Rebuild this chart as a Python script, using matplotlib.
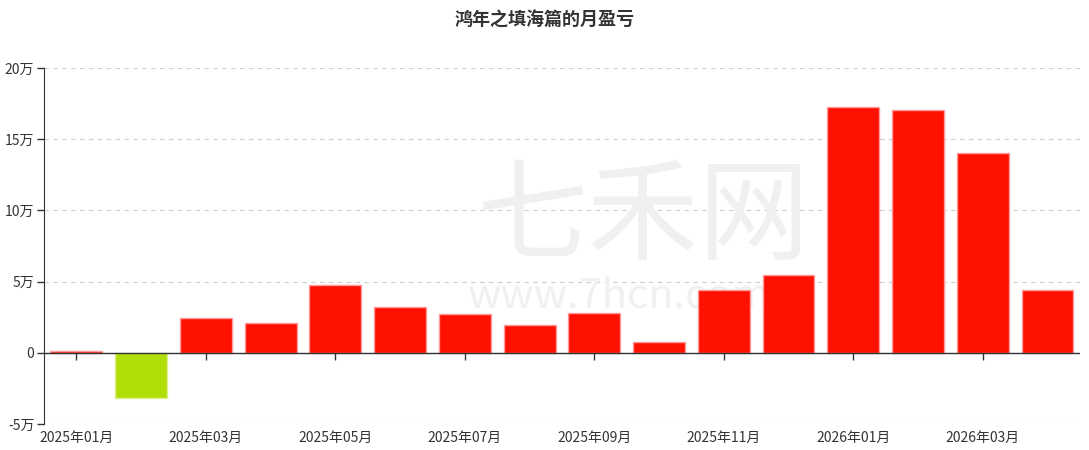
import numpy as np
import matplotlib
matplotlib.use('Agg')
import matplotlib.pyplot as plt
from matplotlib.ticker import FuncFormatter

plt.rcParams['font.family'] = ['Noto Sans CJK SC', 'DejaVu Sans']

# monthly profit / loss (yuan)
months = ['2025年01月', '2025年02月', '2025年03月', '2025年04月', '2025年05月', '2025年06月',
          '2025年07月', '2025年08月', '2025年09月', '2025年10月', '2025年11月', '2025年12月',
          '2026年01月', '2026年02月', '2026年03月', '2026年04月']
pnl = [1500, -31600, 24600, 21000, 47700, 32300,
       27400, 19600, 28000, 7700, 44200, 54700,
       172600, 170500, 140400, 44200]

fig = plt.figure(figsize=(10.89, 4.5), dpi=100)
ax = fig.add_axes([0.0404, 0.0578, 0.9513, 0.7911])

# watermark (behind the bars)
ax.text(0.578, 0.575, '七禾网', transform=ax.transAxes, fontsize=80, color='#f0f0f0',
        ha='center', va='center', zorder=1)
ax.text(0.555, 0.36, 'www.7hcn.com', transform=ax.transAxes, fontsize=30, color='#f0f0f0',
        ha='center', va='center', zorder=1)

x = np.arange(len(months))
colors = ['#ff1100' if v >= 0 else '#b0de09' for v in pnl]
edges = ['#ff9a9a' if v >= 0 else '#dff08a' for v in pnl]
ax.bar(x, pnl, width=0.8, color=colors, edgecolor=edges, linewidth=1, zorder=3)

ax.set_xlim(-0.5, len(months) - 0.5)
ax.set_ylim(-50000, 200000)
ax.set_yticks(np.arange(-50000, 200001, 50000))
ax.yaxis.set_major_formatter(FuncFormatter(lambda v, p: '0' if v == 0 else '%d万' % (v / 10000)))
ax.grid(axis='y', linestyle=(0, (4, 4)), color='#cccccc', linewidth=0.8, zorder=0)
ax.set_axisbelow(True)

ax.set_xticks(x[::2])
ax.set_xticklabels(months[::2])
ax.tick_params(axis='x', length=0, pad=5, labelsize=10, colors='#333333')
ax.tick_params(axis='y', length=5, width=1, labelsize=10, colors='#333333', pad=2)

for s in ['top', 'right', 'bottom']:
    ax.spines[s].set_visible(False)
ax.spines['left'].set_color('#333333')
ax.patch.set_alpha(0)

# zero line with tick marks
ax.axhline(0, color='#333333', linewidth=1, zorder=4)
ax.plot(x[::2], np.zeros(len(x[::2])), linestyle='none', marker=3, markersize=5,
        color='#333333', zorder=4, clip_on=False)

fig.text(0.5, 0.955, '鸿年之填海篇的月盈亏', fontsize=13, fontweight='bold',
         color='#333333', ha='center', va='center')

fig.savefig('out.png', dpi=100)
